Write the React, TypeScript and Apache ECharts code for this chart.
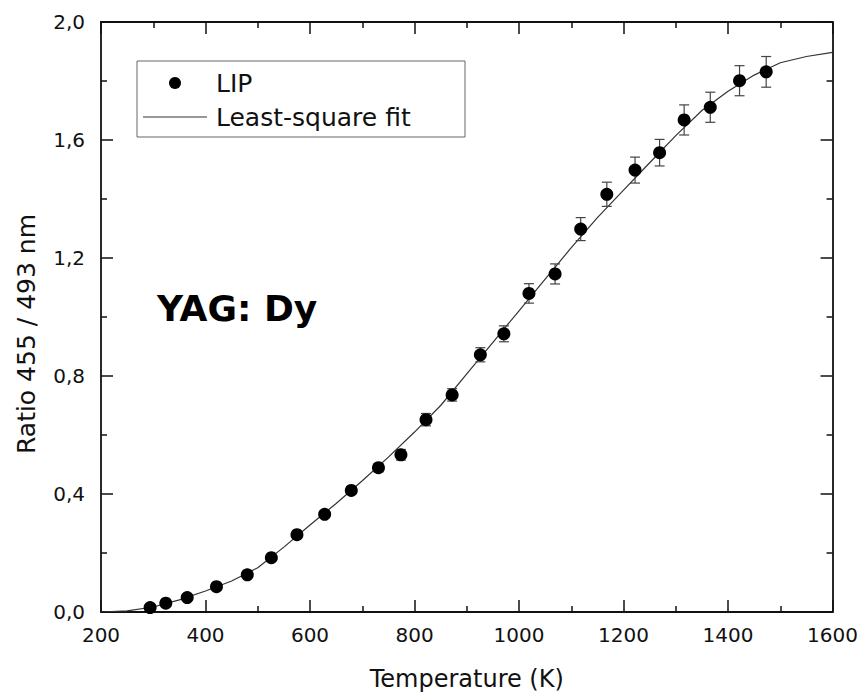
import React, { useEffect, useRef } from "react";
import * as echarts from "echarts";

// Measured data (LIP)
const temperatures = [294, 324, 365, 421, 480, 526, 575, 628, 679, 731, 774, 822, 872, 926, 971, 1019, 1069, 1118, 1168, 1222, 1269, 1316, 1366, 1422, 1473];
const ratios = [0.015, 0.030, 0.049, 0.086, 0.126, 0.184, 0.262, 0.331, 0.412, 0.489, 0.533, 0.652, 0.736, 0.872, 0.943, 1.080, 1.146, 1.298, 1.416, 1.498, 1.557, 1.668, 1.711, 1.801, 1.831];
const ratioErrors = [0.001, 0.002, 0.003, 0.004, 0.005, 0.006, 0.008, 0.010, 0.012, 0.014, 0.018, 0.021, 0.021, 0.024, 0.027, 0.033, 0.034, 0.039, 0.041, 0.044, 0.045, 0.051, 0.051, 0.051, 0.052];

// Least-square fit curve
const fitTemperatures = [200, 250, 300, 350, 400, 450, 500, 550, 600, 650, 700, 750, 800, 850, 900, 950, 1000, 1050, 1100, 1150, 1200, 1250, 1300, 1350, 1400, 1450, 1500, 1550, 1600];
const fitRatios = [0.000, 0.004, 0.017, 0.041, 0.071, 0.105, 0.150, 0.220, 0.295, 0.368, 0.445, 0.525, 0.610, 0.700, 0.807, 0.914, 1.021, 1.128, 1.235, 1.337, 1.430, 1.523, 1.615, 1.700, 1.765, 1.820, 1.862, 1.883, 1.897];

const xTicks = { min: 200, max: 1600, interval: 200 };
const yTicks = { min: 0, max: 2.0, interval: 0.4 };

const FONT = "DejaVu Sans";

export default function App() {
  const ref = useRef<HTMLDivElement>(null);

  useEffect(() => {
    if (!ref.current) return;
    const chart = echarts.init(ref.current, undefined, { renderer: "svg" });

    const points = temperatures.map((t, i) => [t, ratios[i]]);
    const bars = temperatures.map((t, i) => [t, ratios[i] - ratioErrors[i], ratios[i] + ratioErrors[i]]);
    const fit = fitTemperatures.map((t, i) => [t, fitRatios[i]]);

    const axisLine = { show: true, onZero: false, lineStyle: { color: "#111", width: 1.8 } };
    const axisTick = { show: true, inside: true, length: 12, lineStyle: { color: "#111", width: 1.5 } };
    const minorTick = { show: true, splitNumber: 2, length: 6, lineStyle: { color: "#111", width: 1.5 } };

    chart.setOption({
      animation: false,
      backgroundColor: "#fff",
      grid: { left: 101, right: 28, top: 22, bottom: 85, containLabel: false },
      xAxis: [
        {
          type: "value",
          position: "bottom",
          min: xTicks.min,
          max: xTicks.max,
          interval: xTicks.interval,
          axisLine,
          axisTick,
          minorTick,
          splitLine: { show: false },
          axisLabel: {
            show: true,
            margin: 13,
            color: "#111",
            fontFamily: FONT,
            fontSize: 20,
            formatter: (v: number) => String(v),
          },
          name: "Temperature (K)",
          nameLocation: "middle",
          nameGap: 55,
          nameTextStyle: { color: "#111", fontFamily: FONT, fontSize: 24 },
        },
        {
          type: "value",
          position: "top",
          min: xTicks.min,
          max: xTicks.max,
          interval: xTicks.interval,
          axisLine,
          axisTick,
          minorTick,
          splitLine: { show: false },
          axisLabel: { show: false },
        },
      ],
      yAxis: [
        {
          type: "value",
          position: "left",
          min: yTicks.min,
          max: yTicks.max,
          interval: yTicks.interval,
          axisLine,
          axisTick,
          minorTick,
          splitLine: { show: false },
          axisLabel: {
            show: true,
            margin: 16,
            color: "#111",
            fontFamily: FONT,
            fontSize: 20,
            formatter: (v: number) => v.toFixed(1).replace(".", ","),
          },
        },
        {
          type: "value",
          position: "right",
          min: yTicks.min,
          max: yTicks.max,
          interval: yTicks.interval,
          axisLine,
          axisTick,
          minorTick,
          splitLine: { show: false },
          axisLabel: { show: false },
        },
      ],
      graphic: [
        {
          type: "text",
          x: 26,
          y: 334,
          rotation: Math.PI / 2,
          style: {
            text: "Ratio 455 / 493 nm",
            fill: "#111",
            font: `25px "${FONT}"`,
            align: "center",
            verticalAlign: "middle",
          },
        },
        {
          type: "text",
          x: 157,
          y: 308,
          style: {
            text: "YAG: Dy",
            fill: "#000",
            font: `bold 36px "${FONT}"`,
            align: "left",
            verticalAlign: "middle",
          },
        },
        {
          type: "group",
          children: [
            {
              type: "rect",
              shape: { x: 137, y: 61, width: 328, height: 76 },
              style: { fill: "#fff", stroke: "#666", lineWidth: 1 },
            },
            { type: "circle", shape: { cx: 175, cy: 83, r: 6 }, style: { fill: "#000" } },
            {
              type: "line",
              shape: { x1: 143, y1: 117, x2: 207, y2: 117 },
              style: { stroke: "#333", lineWidth: 1.2 },
            },
            {
              type: "text",
              x: 216,
              y: 83,
              style: { text: "LIP", fill: "#111", font: `25px "${FONT}"`, verticalAlign: "middle" },
            },
            {
              type: "text",
              x: 216,
              y: 117,
              style: { text: "Least-square fit", fill: "#111", font: `25px "${FONT}"`, verticalAlign: "middle" },
            },
          ],
        },
      ],
      series: [
        {
          name: "Least-square fit",
          type: "line",
          data: fit,
          showSymbol: false,
          smooth: false,
          lineStyle: { color: "#333", width: 1.2 },
          z: 2,
        },
        {
          name: "LIP error",
          type: "custom",
          data: bars,
          encode: { x: 0, y: [1, 2] },
          z: 3,
          renderItem: (params: any, api: any) => {
            const x = api.value(0);
            const pLo = api.coord([x, api.value(1)]);
            const pHi = api.coord([x, api.value(2)]);
            const hw = 5;
            const style = { stroke: "#444", lineWidth: 1.2 };
            return {
              type: "group",
              children: [
                { type: "line", shape: { x1: pHi[0], y1: pHi[1], x2: pLo[0], y2: pLo[1] }, style },
                { type: "line", shape: { x1: pHi[0] - hw, y1: pHi[1], x2: pHi[0] + hw, y2: pHi[1] }, style },
                { type: "line", shape: { x1: pLo[0] - hw, y1: pLo[1], x2: pLo[0] + hw, y2: pLo[1] }, style },
              ],
            };
          },
        },
        {
          name: "LIP",
          type: "scatter",
          data: points,
          symbol: "circle",
          symbolSize: 13,
          itemStyle: { color: "#000", opacity: 1 },
          z: 4,
        },
      ],
    });

    return () => chart.dispose();
  }, []);

  return (
    <div
      ref={ref}
      style={{ position: "fixed", left: 0, top: 0, width: 861, height: 697, background: "#fff" }}
    />
  );
}
